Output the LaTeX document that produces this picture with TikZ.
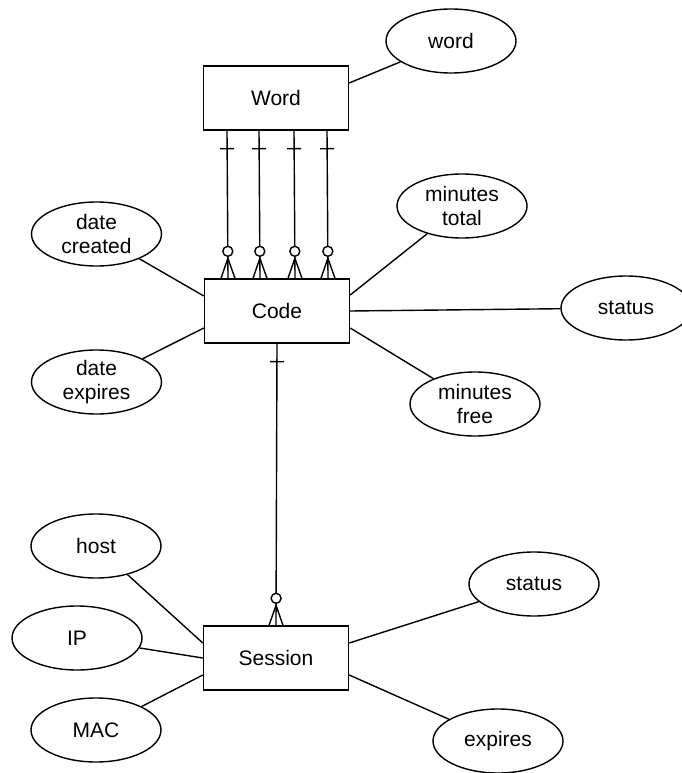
\documentclass[tikz,border=0pt]{standalone}
\usepackage{fontspec}
\setmainfont{Liberation Sans}
\usetikzlibrary{shapes.geometric,decorations.markings}

\begin{document}
\begin{tikzpicture}[x=1pt,y=-1pt,line width=1.4pt,
	font=\fontsize{21}{24}\selectfont,
	entity/.style = {rectangle,draw,fill=white,minimum width=145pt,minimum height=64pt,inner sep=0pt},
	attr/.style = {ellipse,draw,fill=white,minimum width=130pt,minimum height=64pt,inner sep=0pt,align=center},
	onemany/.style = {postaction={decorate},decoration={markings,
		mark=at position 18pt with {\draw (0,-7pt) -- (0,7pt);},
		mark=at position -20pt with {\draw (0,0) -- (20pt,7pt) (0,0) -- (20pt,-7pt);},
		mark=at position -27pt with {\filldraw[fill=white] (0,0) circle (5pt);}}}]
	
	\useasboundingbox (0,0) rectangle (681,773);
	
	% entities
	\node[entity] (w) at (276,98) {Word};
	\node[entity] (c) at (277,311) {Code};
	\node[entity] (s) at (276,658) {Session};
	
	% attributes
	\node[attr] (wd) at (451,41) {word};
	\node[attr] (dc) at (96.5,234) {date\\created};
	\node[attr] (de) at (96.5,382) {date\\expires};
	\node[attr] (mt) at (462,206) {minutes\\total};
	\node[attr] (cst) at (626,308) {status};
	\node[attr] (mf) at (475,404) {minutes\\free};
	\node[attr] (ho) at (96,546) {host};
	\node[attr] (ip) at (77,638) {IP};
	\node[attr] (mac) at (96,730) {MAC};
	\node[attr] (sst) at (534,584) {status};
	\node[attr] (ex) at (498,741) {expires};
	
	% relationships
	\foreach \dx in {-49,-17,18,51}
		\draw[onemany] ([xshift=\dx pt]w.south) -- ([xshift=\dx pt]c.north);
	\draw[onemany] (c.south) -- (s.north);
	
	\path[-]
	([yshift=15pt]w.east) edge (wd)
	([yshift=15pt]c.west) edge (dc)
	([yshift=-17pt]c.west) edge (de)
	([yshift=16pt]c.east) edge (mt)
	(c.east) edge (cst)
	([yshift=-17pt]c.east) edge (mf)
	([yshift=15pt]s.west) edge (ho)
	(s.west) edge (ip)
	([yshift=-17pt]s.west) edge (mac)
	([yshift=15pt]s.east) edge (sst)
	([yshift=-17pt]s.east) edge (ex);
\end{tikzpicture}
\end{document}
